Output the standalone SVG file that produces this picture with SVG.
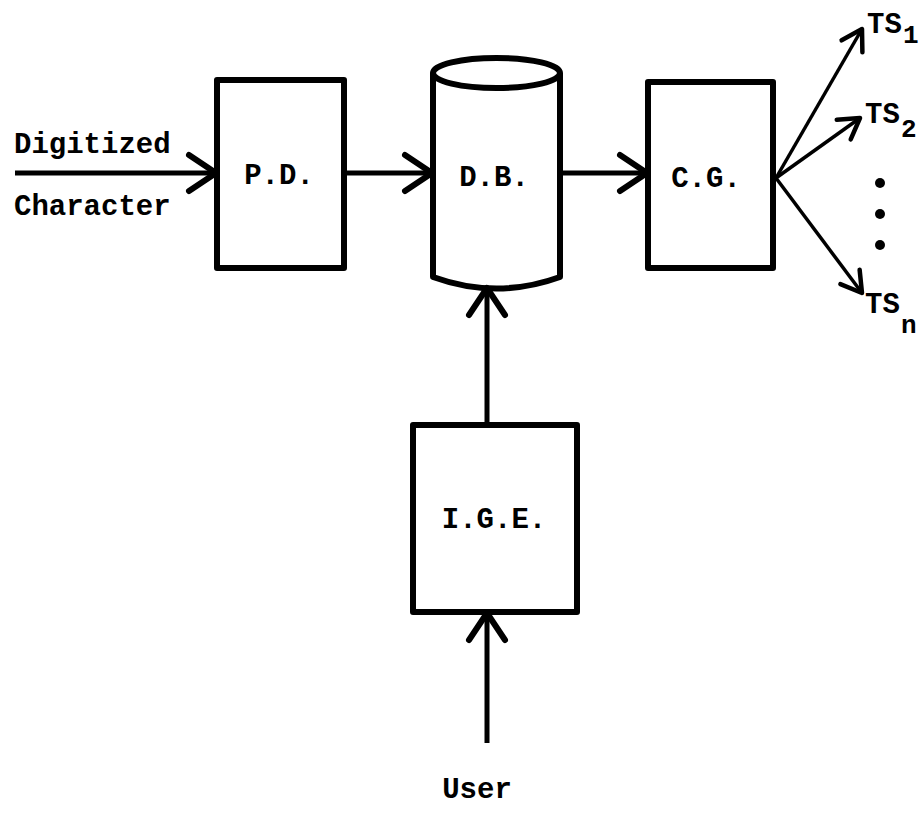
<svg xmlns="http://www.w3.org/2000/svg" width="922" height="815" viewBox="0 0 922 815">
<style>
.box{fill:none;stroke:#000;stroke-width:6;stroke-linejoin:round}
.ln{fill:none;stroke:#000;stroke-width:5}
.thin{fill:none;stroke:#000;stroke-width:3.5}
text{font-family:"Liberation Mono","Courier New",monospace;font-weight:bold;fill:#000;font-size:29px}
.c{text-anchor:middle}
.sub{font-size:26px}
</style>
<defs>
<marker id="ah" markerUnits="userSpaceOnUse" markerWidth="44" markerHeight="44" viewBox="-36 -22 44 44" refX="0" refY="0" orient="auto">
<path d="M-27,-18 L0,0 L-27,18" fill="none" stroke="#000" stroke-width="6" stroke-linecap="round" stroke-linejoin="round"/>
</marker>
<marker id="ahs" markerUnits="userSpaceOnUse" markerWidth="34" markerHeight="34" viewBox="-28 -17 34 34" refX="0" refY="0" orient="auto">
<path d="M-20,-12 L0,0 L-20,12" fill="none" stroke="#000" stroke-width="4.5" stroke-linecap="round" stroke-linejoin="round"/>
</marker>
</defs>
<g id="connectors">
<line class="ln" x1="15" y1="173" x2="216" y2="173" marker-end="url(#ah)"/>
<line class="ln" x1="345" y1="173" x2="432" y2="173" marker-end="url(#ah)"/>
<line class="ln" x1="560" y1="173" x2="647" y2="173" marker-end="url(#ah)"/>
<line class="ln" x1="487" y1="425" x2="487" y2="288" marker-end="url(#ah)"/>
<line class="ln" x1="487" y1="743" x2="487" y2="613" marker-end="url(#ah)"/>
<line class="thin" x1="776" y1="178" x2="862" y2="29" marker-end="url(#ahs)"/>
<line class="thin" x1="776" y1="178" x2="860" y2="118" marker-end="url(#ahs)"/>
<line class="thin" x1="776" y1="178" x2="862" y2="293" marker-end="url(#ahs)"/>
</g>
<g id="input-label">
<text x="14" y="153">Digitized</text>
<text x="14" y="215">Character</text>
</g>
<g id="PD">
<rect class="box" x="217" y="80" width="127" height="188"/>
<text class="c" x="279" y="184">P.D.</text>
</g>
<g id="DB">
<path class="box" d="M433,73 L433,277 Q496.5,300 560,277 L560,73"/>
<ellipse class="box" cx="496.5" cy="73" rx="63.5" ry="15"/>
<text class="c" x="494" y="186">D.B.</text>
</g>
<g id="CG">
<rect class="box" x="648" y="82" width="125" height="186"/>
<text class="c" x="706" y="187">C.G.</text>
</g>
<g id="IGE">
<rect class="box" x="413" y="425" width="164" height="187"/>
<text class="c" x="494" y="528">I.G.E.</text>
</g>
<g id="TS1">
<text x="867" y="33">TS</text><text class="sub" x="903" y="43">1</text>
</g>
<g id="TS2">
<text x="865" y="123">TS</text><text class="sub" x="901" y="137">2</text>
</g>
<g id="dots">
<circle cx="880" cy="183" r="5"/>
<circle cx="880" cy="214" r="5"/>
<circle cx="880" cy="245" r="5"/>
</g>
<g id="TSn">
<text x="865" y="313">TS</text><text class="sub" x="901" y="333">n</text>
</g>
<g id="User">
<text class="c" x="477" y="798">User</text>
</g>
</svg>
